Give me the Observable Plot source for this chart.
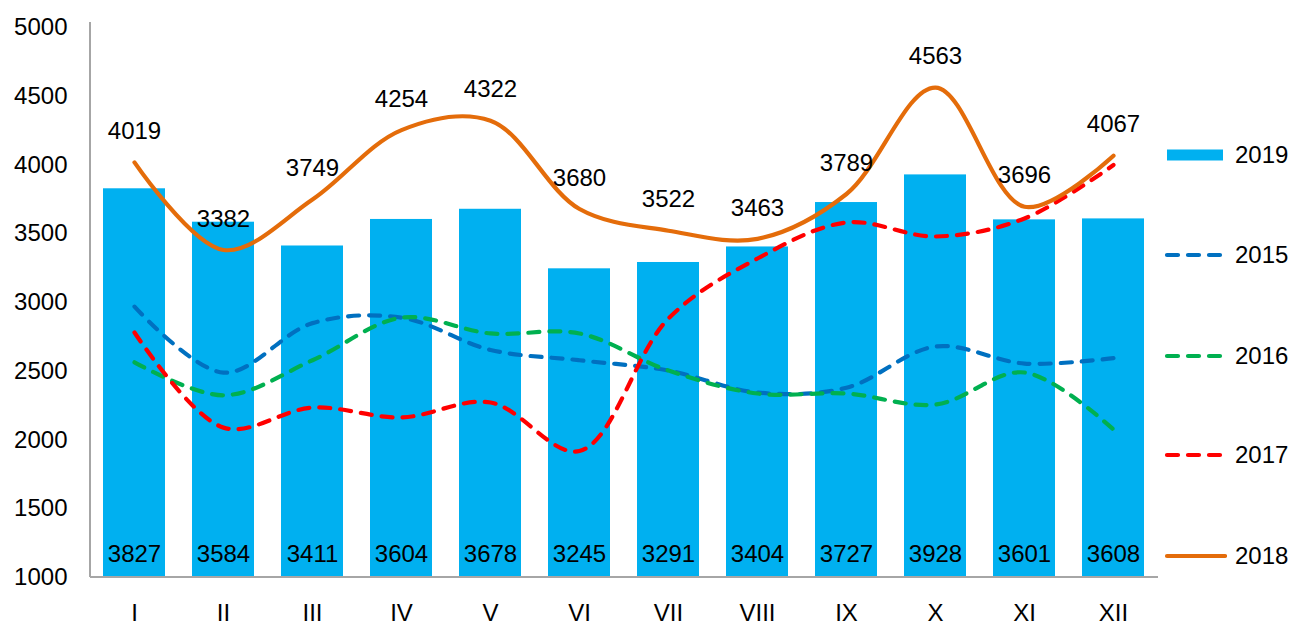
<!DOCTYPE html>
<html><head><meta charset="utf-8">
<script src="https://cdn.jsdelivr.net/npm/d3@7"></script>
<script src="https://cdn.jsdelivr.net/npm/@observablehq/plot@0.6"></script>
<style>
body{margin:0;background:#fff;font-family:"Liberation Sans",Arial,sans-serif;}
#wrap{position:relative;width:1291px;height:625px;overflow:hidden;}
#chart{position:absolute;left:0;top:0;}
.item{position:absolute;left:1163px;display:flex;align-items:center;white-space:nowrap;font-size:24px;color:#000;height:30px;}
.item svg{display:block;margin-right:8px;}
</style></head><body>
<div id="wrap"><div id="chart"></div><div id="legend"></div></div>
<script>
const months = ["I","II","III","IV","V","VI","VII","VIII","IX","X","XI","XII"];
const v2019 = [3827,3584,3411,3604,3678,3245,3291,3404,3727,3928,3601,3608];
const v2018 = [4019,3382,3749,4254,4322,3680,3522,3463,3789,4563,3696,4067];
const v2015 = [2970,2490,2850,2890,2655,2580,2505,2345,2380,2680,2556,2595];
const v2016 = [2565,2325,2580,2890,2775,2775,2505,2338,2338,2258,2491,2076];
const v2017 = [2782,2090,2236,2164,2273,1920,2884,3320,3582,3480,3611,4000];
const yTicks = [1000,1500,2000,2500,3000,3500,4000,4500,5000];
const yDomain = [1000,5000];
const series = [
  {name:"2019", values:v2019, color:"#00B0F0", kind:"bar"},
  {name:"2015", values:v2015, color:"#0070C0", kind:"dash"},
  {name:"2016", values:v2016, color:"#00B050", kind:"dash"},
  {name:"2017", values:v2017, color:"#FF0000", kind:"dash"},
  {name:"2018", values:v2018, color:"#E46C0A", kind:"solid"}
];

const rows = s => months.map((m,i)=>({month:m, value:s.values[i]}));
const base = yDomain[0];
const axisColor = "#A6A6A6";

const axisLines = (index, scales, values, dims) => {
  const g = d3.create("svg:g");
  const x0 = dims.marginLeft, x1 = dims.width - dims.marginRight;
  const yb = dims.height - dims.marginBottom;
  g.append("line").attr("x1", x0).attr("x2", x0).attr("y1", dims.marginTop - 5).attr("y2", yb)
    .attr("stroke", axisColor).attr("stroke-width", 2);
  g.append("line").attr("x1", x0).attr("x2", x1).attr("y1", yb).attr("y2", yb)
    .attr("stroke", axisColor).attr("stroke-width", 2);
  return g.node();
};

const marks = [];
const bars = series[0];
marks.push(Plot.barY(rows(bars), {x:"month", y1:()=>base, y2:"value", fill:bars.color}));
for (const s of series.slice(1)) {
  marks.push(Plot.line(rows(s), {
    x:"month", y:"value", stroke:s.color, strokeWidth:4.2,
    curve:"catmull-rom",
    strokeDasharray: s.kind === "dash" ? "11,10" : null,
    strokeLinecap: "round", strokeLinejoin:"round"
  }));
}
marks.push(axisLines);
marks.push(Plot.text(rows(bars), {x:"month", y:()=>base, text:d=>String(d.value), dy:-23, fill:"#000", fontSize:24}));
marks.push(Plot.text(rows(series[4]), {x:"month", y:"value", text:d=>String(d.value), dy:-31, fill:"#000", fontSize:24}));
marks.push(Plot.axisY({ticks:yTicks, tickSize:0, tickPadding:23, tickFormat:d=>String(d), fontSize:24}));
marks.push(Plot.axisX({tickSize:0, tickPadding:26, fontSize:24}));

const chart = Plot.plot({
  width:1160, height:625,
  marginLeft:90, marginRight:2, marginTop:27, marginBottom:48,
  style:{fontFamily:"Liberation Sans, Arial, sans-serif", fontSize:"24px", color:"#000", background:"#fff"},
  x:{domain:months, paddingInner:0.3, paddingOuter:0.15, label:null},
  y:{domain:yDomain, label:null},
  marks
});
document.getElementById("chart").appendChild(chart);

const legendCenters = [155,255,356,455,556];
const legend = document.getElementById("legend");
series.forEach((s,i)=>{
  const div = document.createElement("div");
  div.className = "item";
  div.style.top = (legendCenters[i] - 15) + "px";
  const svg = d3.create("svg").attr("width", 64).attr("height", 30);
  if (s.kind === "bar") {
    svg.append("rect").attr("x", 4).attr("y", 9.5).attr("width", 56).attr("height", 11).attr("fill", s.color);
  } else {
    svg.append("line").attr("x1", 4).attr("x2", s.kind === "dash" ? 58 : 62).attr("y1", 15).attr("y2", 15)
      .attr("stroke", s.color).attr("stroke-width", 4.2).attr("stroke-linecap", "round")
      .attr("stroke-dasharray", s.kind === "dash" ? "11,10" : null);
  }
  div.appendChild(svg.node());
  const t = document.createElement("span");
  t.textContent = s.name;
  div.appendChild(t);
  legend.appendChild(div);
});
</script>
</body></html>
